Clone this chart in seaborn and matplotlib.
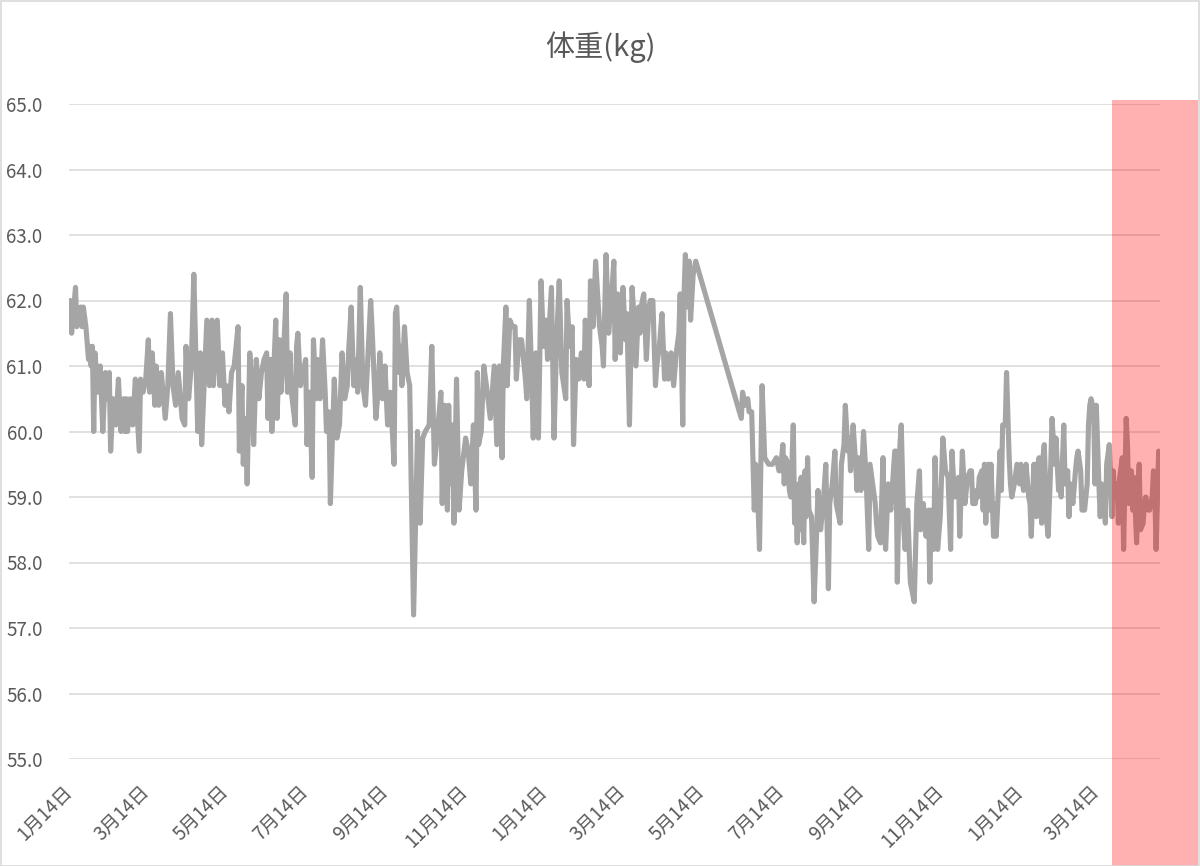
import matplotlib
matplotlib.use('Agg')
import matplotlib.pyplot as plt
import matplotlib.dates as mdates
from matplotlib.patches import Rectangle
from matplotlib.ticker import FuncFormatter
from matplotlib.transforms import ScaledTranslation
import seaborn as sns
import pandas as pd

# ---------------- data ----------------
start_date = '2019-01-14'
day_offsets = [
    0, 1, 2, 5, 6, 9, 10, 11, 13, 15, 16, 17, 18, 19, 20, 22, 24, 26, 28, 29,
    31, 32, 34, 36, 38, 40, 42, 43, 44, 45, 47, 49, 51, 54, 55, 57, 59, 61, 62, 64,
    66, 67, 69, 71, 74, 76, 78, 80, 82, 84, 87, 89, 90, 92, 94, 96, 99, 101, 102, 106,
    108, 110, 111, 114, 116, 118, 120, 121, 123, 125, 127, 130,
    131, 133, 134, 136, 137, 139, 141, 142, 144, 146, 148, 150, 152, 153, 155, 156, 158, 159,
    160, 162, 163, 165, 167, 168, 170, 171, 174, 175, 176, 178, 180, 182, 183, 185, 187, 188,
    190, 191, 193, 195, 197, 198, 200, 201, 203, 204, 206, 208, 210, 212, 214, 215, 217, 219,
    221, 222, 224, 226, 228, 230, 232, 233, 236, 238, 239, 241, 243, 245, 247, 250, 251, 252,
    254, 255, 256, 258, 260, 262, 263, 265, 268, 270, 272,
    274, 277, 279, 281, 283, 286, 287, 289, 291, 292, 293, 295, 296, 298, 300, 302, 305, 307,
    309, 311, 313, 314, 315, 317, 319, 321, 324, 327, 329, 331, 333, 334, 336, 337, 339, 341,
    343, 344, 346, 348, 351, 352, 354, 356, 357, 359, 361, 363, 365, 367, 368, 371, 373, 375,
    377, 379, 382, 383, 385, 387, 388, 390, 392, 394, 396, 397, 400, 401, 403, 405, 408, 410,
    411, 413, 415,
    417, 419, 420, 422, 424, 425, 426, 428, 429, 431, 433, 434, 436, 438, 439, 440, 442, 444,
    446, 447, 449, 451, 452, 454, 456, 458, 459, 461, 463, 465, 467, 469, 470, 472, 473, 474,
    476, 477, 478, 480, 482,
    517, 518, 520, 522, 523, 525, 527, 528, 530, 531, 533, 535, 538, 541, 544, 546,
    547, 549, 550, 551, 553, 554, 555, 557, 558, 559, 560, 561, 562, 563, 565, 566, 567, 568,
    569, 571, 573, 575, 576, 578, 580, 582, 584, 585, 587, 589, 590, 593, 594, 596, 597, 599,
    600, 601, 603, 605, 606, 607, 609, 611, 613, 615, 616, 618, 620, 621, 622, 624, 626, 627,
    628, 630, 632, 633, 635, 636, 637, 639, 640, 642, 643, 645, 647, 648, 650, 652, 654, 655,
    657, 659, 661, 662, 663, 665, 666, 668, 670, 672, 674, 676, 678, 679, 681, 684, 685, 687,
    689, 691, 693,
    694, 695, 697, 698, 699, 700, 702, 703, 704, 705, 707, 708, 709, 711, 712, 713, 714, 716,
    717, 718, 720, 721, 723, 724, 725, 727, 729, 731, 732, 734, 736, 738, 739, 740, 742, 744,
    745, 746, 748, 749, 750, 752, 753, 755, 756, 758, 759, 761, 762, 763, 765, 766, 768, 769,
    770, 772, 774, 775, 776, 778, 779, 781, 783, 784, 785, 786, 788, 789, 790, 792, 793, 794,
    795, 797, 798, 800, 802, 803, 804, 806, 807, 808, 810, 811, 813, 814, 815, 817, 818, 819,
    821, 822, 823, 824, 826, 827, 828, 830, 831, 833, 834, 835, 836, 838, 839,
]
weights_kg = [
    61.6, 62.0, 61.5, 62.2, 61.6, 61.9, 61.6, 61.9, 61.6, 61.1, 61.3, 61.0, 61.3, 60.0, 61.2, 60.6, 61.0, 60.0, 60.9, 60.5,
    60.9, 59.7, 60.5, 60.1, 60.8, 60.0, 60.5, 60.0, 60.5, 60.0, 60.5, 60.1, 60.8, 59.7, 60.8, 60.6, 60.8, 61.4, 60.6, 61.2,
    60.4, 61.0, 60.4, 60.9, 60.2, 60.7, 61.8, 60.7, 60.4, 60.9, 60.2, 60.1, 61.3, 60.5, 61.0, 62.4, 60.0, 61.2, 59.8, 61.7,
    60.7, 61.7, 60.7, 61.7, 60.7, 61.2, 60.4, 60.7, 60.3, 60.9, 61.0, 61.6,
    59.7, 60.7, 59.5, 60.2, 59.2, 61.2, 60.6, 59.8, 61.1, 60.5, 60.9, 61.1, 61.2, 60.2, 61.1, 60.0, 61.2, 61.7,
    60.2, 61.4, 60.6, 61.2, 62.1, 60.6, 61.2, 60.6, 60.1, 61.3, 61.5, 60.7, 60.9, 61.1, 59.8, 60.6, 59.3, 61.4,
    60.5, 61.1, 60.5, 61.4, 60.6, 60.0, 60.3, 58.9, 60.2, 60.8, 59.9, 60.1, 61.2, 60.5, 60.7, 61.2, 61.9, 60.7,
    61.1, 60.6, 62.2, 60.7, 60.4, 61.2, 62.0, 61.6, 60.2, 60.7, 61.2, 60.5, 61.0, 60.1, 60.6, 59.5, 61.8, 61.9,
    60.9, 61.3, 60.7, 61.6, 60.9, 60.7, 59.4, 57.2, 60.0, 58.6, 59.9,
    60.0, 60.1, 61.3, 59.5, 59.9, 60.6, 58.9, 60.4, 58.8, 60.4, 59.2, 60.1, 58.6, 60.8, 58.8, 59.4, 59.9, 59.7,
    59.2, 60.1, 58.8, 60.9, 59.8, 60.0, 61.0, 60.7, 60.2, 61.0, 59.8, 61.0, 59.6, 61.0, 61.9, 60.7, 61.7, 61.6,
    61.6, 60.8, 61.4, 61.4, 60.8, 60.5, 62.0, 60.7, 59.9, 61.2, 59.9, 62.3, 61.3, 61.7, 61.1, 62.2, 59.9, 61.4,
    62.3, 60.9, 60.5, 62.0, 61.3, 61.6, 59.8, 61.1, 60.8, 61.2, 60.8, 61.7, 60.7, 62.3, 61.6, 62.6, 61.6, 61.3,
    61.0, 62.7, 61.5,
    62.0, 62.6, 61.1, 62.1, 61.2, 61.9, 62.2, 61.4, 61.8, 60.1, 62.2, 61.9, 61.0, 61.9, 61.5, 61.9, 62.1, 61.1,
    61.9, 62.0, 62.0, 60.7, 61.0, 61.3, 61.8, 60.8, 61.2, 60.8, 61.2, 60.7, 61.2, 61.5, 62.1, 60.1, 62.1, 62.7,
    61.9, 62.6, 61.7, 62.4, 62.6,
    60.2, 60.6, 60.4, 60.5, 60.3, 60.3, 58.8, 59.5, 58.8, 58.2, 60.7, 59.6, 59.5, 59.5, 59.6, 59.4,
    59.4, 59.8, 59.2, 59.6, 59.5, 59.1, 59.0, 60.1, 58.6, 59.0, 58.3, 59.2, 58.5, 59.3, 58.3, 59.4, 58.7, 59.6,
    58.8, 58.7, 57.4, 58.5, 59.1, 58.5, 58.9, 59.5, 57.6, 58.9, 59.2, 59.7, 58.9, 58.6, 59.5, 59.8, 60.4, 59.7,
    59.9, 59.4, 60.1, 59.5, 59.1, 59.6, 59.1, 60.0, 59.3, 58.2, 59.5, 59.2, 58.9, 58.6, 58.4, 58.3, 59.6, 58.5,
    58.2, 59.2, 58.8, 59.1, 59.7, 59.7, 57.7, 59.8, 60.1, 58.5, 58.2, 58.8, 57.7, 57.6, 57.4, 58.9, 59.4, 58.5,
    58.9, 58.4, 58.8, 57.7, 58.8, 58.2, 59.6, 58.2, 58.7, 59.9, 59.4, 59.3, 58.2, 59.7, 59.0, 59.3, 58.4, 59.7,
    58.9, 59.3, 59.4,
    59.4, 58.9, 58.9, 59.1, 59.0, 59.3, 59.4, 58.8, 59.5, 58.6, 59.5, 58.8, 59.5, 58.4, 58.9, 58.4, 58.8, 59.7,
    59.1, 60.1, 60.1, 60.9, 59.6, 59.2, 59.0, 59.2, 59.5, 59.2, 59.5, 59.1, 59.5, 59.0, 58.9, 58.4, 59.5, 58.7,
    59.5, 59.6, 58.6, 59.6, 59.8, 58.6, 58.4, 59.5, 60.2, 59.5, 59.9, 59.1, 59.4, 59.0, 60.1, 59.2, 59.4, 58.7,
    59.2, 58.9, 59.4, 59.6, 59.7, 59.4, 58.8, 58.8, 59.2, 60.1, 60.4, 60.5, 60.3, 59.2, 60.4, 59.2, 58.7, 59.2,
    59.1, 58.6, 59.5, 59.8, 58.7, 59.4, 59.1, 59.2, 58.6, 59.3, 59.6, 58.2, 60.2, 59.8, 58.9, 59.4, 58.8, 59.3,
    58.3, 59.0, 59.5, 58.5, 58.6, 58.9, 59.0, 58.8, 58.8, 59.0, 59.4, 59.1, 58.2, 59.7, 59.0,
]
title_text = '体重(kg)'
tick_months = [1, 3, 5, 7, 9, 11]
tick_monthday = 14
y_ticks = [55.0, 56.0, 57.0, 58.0, 59.0, 60.0, 61.0, 62.0, 63.0, 64.0, 65.0]
highlight_start_day = 802

# ---------------- style ----------------
sns.set_theme(style='white')
plt.rcParams['font.family'] = ['Noto Sans CJK JP', 'DejaVu Sans']
text_color = '#595959'

df = pd.DataFrame({
    'date': pd.Timestamp(start_date) + pd.to_timedelta(day_offsets, unit='D'),
    'weight': weights_kg,
})

W, H = 1200, 866
fig = plt.figure(figsize=(W / 100, H / 100), dpi=100)
fig.patch.set_facecolor('white')
ax = fig.add_axes([69 / W, (H - 759) / H, (1160 - 69) / W, (759 - 104) / H])
ax.set_facecolor('white')

sns.lineplot(data=df, x='date', y='weight', ax=ax, color='#A5A5A5',
             linewidth=3.7, estimator=None, zorder=3)

ax.set_xlim(df['date'].min(), df['date'].max())
ax.set_ylim(y_ticks[0], y_ticks[-1])
ax.set_yticks(y_ticks)
ax.yaxis.set_major_formatter(FuncFormatter(lambda v, p: f'{v:.1f}'))

# x ticks: 14th of every odd month within the data range
tick_dates = [d for d in pd.date_range(df['date'].min(), df['date'].max(), freq='D')
              if d.month in tick_months and d.day == tick_monthday]
ax.set_xticks(tick_dates)
ax.set_xticklabels([f'{d.month}月{d.day}日' for d in tick_dates])

ax.grid(axis='y', color='#D9D9D9', linewidth=1.1, zorder=0)
ax.grid(axis='x', visible=False)
for s in ax.spines.values():
    s.set_visible(False)
ax.tick_params(length=0, colors=text_color, labelsize=13.5)
ax.tick_params(axis='y', pad=19)
ax.tick_params(axis='x', pad=16)
shift = ScaledTranslation(-7 / 100, 0, fig.dpi_scale_trans)
for lbl in ax.get_xticklabels():
    lbl.set_rotation(45)
    lbl.set_ha('right')
    lbl.set_va('top')
    lbl.set_rotation_mode('anchor')
    lbl.set_transform(lbl.get_transform() + shift)
ax.set_xlabel('')
ax.set_ylabel('')

fig.text(0.5, (H - 47) / H, title_text, ha='center', va='center',
         fontsize=21, color=text_color)

# highlighted recent period (semi-transparent red block)
x0_disp = ax.transData.transform((mdates.date2num(pd.Timestamp(start_date) + pd.Timedelta(days=highlight_start_day)), 0))[0]
x0_fig = x0_disp / fig.bbox.width
fig.patches.append(Rectangle((x0_fig, 0), (W - 2) / W - x0_fig, (H - 100) / H,
                             transform=fig.transFigure, facecolor='#FF0000',
                             alpha=0.31, edgecolor='none', zorder=5))
# chart border
fig.patches.append(Rectangle((0.5 / W, 0.5 / H), 1 - 1.5 / W, 1 - 1.5 / H,
                             transform=fig.transFigure, fill=False,
                             edgecolor='#D9D9D9', linewidth=1.2, zorder=6))

fig.savefig('out.png', dpi=100)
